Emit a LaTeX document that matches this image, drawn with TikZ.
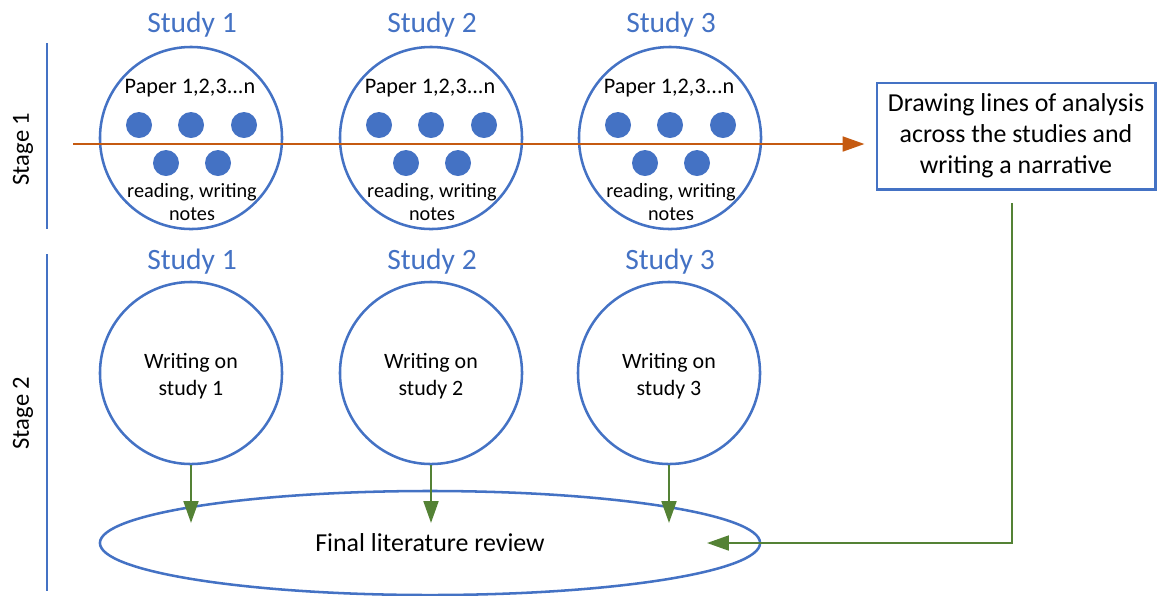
\documentclass[tikz,border=0pt]{standalone}
\usepackage{fontspec}
\setmainfont{Carlito}
\usetikzlibrary{arrows.meta,calc,shapes.geometric}

\definecolor{offblue}{HTML}{4472C4}
\definecolor{offorange}{HTML}{C55A11}
\definecolor{offgreen}{HTML}{548235}

\tikzset{
  studylabel/.style={text=offblue, font=\fontsize{21}{24}\selectfont, inner sep=0pt},
  stagelabel/.style={font=\fontsize{17.5}{20}\selectfont, rotate=90, inner sep=0pt},
  studycircle/.style={circle, draw=offblue, line width=1.8pt, minimum size=4.55cm, inner sep=0pt},
  smalltext/.style={font=\fontsize{14.4}{16.5}\selectfont, align=center, inner sep=0pt},
  writetext/.style={font=\fontsize{15.6}{19}\selectfont, align=center, inner sep=0pt},
  paperdot/.style={circle, fill=offblue, minimum size=0.65cm, inner sep=0pt},
  stageline/.style={draw=offblue, line width=1.9pt},
  flowarrow/.style={draw=offorange, line width=1.7pt, -{Triangle[length=15.5pt,width=10.5pt]}},
  feedarrow/.style={draw=offgreen, line width=1.7pt, -{Triangle[length=15.5pt,width=10.5pt]}},
}

\begin{document}
\begin{tikzpicture}[x=0.025cm, y=-0.025cm]
  \useasboundingbox (0,0) rectangle (1161,595);

  % stage markers on the left
  \coordinate (s1top) at (47,43);
  \coordinate (s1bot) at (47,229);
  \coordinate (s2top) at (47,254);
  \coordinate (s2bot) at (47,591);
  \draw[stageline] (s1top) -- (s1bot);
  \draw[stageline] (s2top) -- (s2bot);
  \node[stagelabel] (stage1) at (23,149) {Stage 1};
  \node[stagelabel] (stage2) at (23,413) {Stage 2};

  % stage 1: reading the papers of each study
  \foreach \i/\x in {1/191, 2/431, 3/670} {
    \node[studylabel] (lab1\i) at (\x+1,25) {Study \i};
    \node[studycircle] (a\i) at (\x,138) {};
    \node[smalltext, font=\fontsize{15.8}{18}\selectfont] (pap\i) at (\x-1,88) {Paper 1,2,3...n};
    \node[paperdot] (d\i a) at (\x-52,125) {};
    \node[paperdot] (d\i b) at (\x,125) {};
    \node[paperdot] (d\i c) at (\x+53,125) {};
    \node[paperdot] (d\i d) at (\x-25,163) {};
    \node[paperdot] (d\i e) at (\x+27,163) {};
    \node[smalltext] (read\i) at (\x+1,202) {reading, writing\\notes};
  }

  % synthesis box
  \node[draw=offblue, line width=2.1pt, minimum width=6.95cm, minimum height=2.65cm,
        inner sep=0pt, align=center, font=\fontsize{18.4}{22}\selectfont]
        (synth) at (1016,136) {Drawing lines of analysis\\across the studies and\\writing a narrative};

  \coordinate (flowstart) at (73,144);
  \draw[flowarrow, shorten >=7.8pt] (flowstart) -- (flowstart -| synth.west);

  % stage 2: writing on each study
  \foreach \i/\x in {1/191, 2/431, 3/669} {
    \node[studylabel] (lab2\i) at (\x+1,262) {Study \i};
    \node[studycircle] (b\i) at (\x,373) {};
    \node[writetext] (w\i) at (\x,376) {Writing on\\study \i};
  }

  % final review
  \node[ellipse, draw=offblue, line width=1.8pt, minimum width=16.5cm, minimum height=2.6cm,
        inner sep=0pt, font=\fontsize{18.4}{22}\selectfont] (final) at (430,543) {Final literature review};

  \coordinate (tipline) at (0,523);
  \foreach \i in {1,2,3}
    \draw[feedarrow] (b\i.south) -- (b\i.south |- tipline);

  % feedback from the synthesis box into the review
  \coordinate (backtip) at (707,543);
  \draw[feedarrow, shorten <=9.2pt] ($(synth.south)+(-4,0)$) |- (backtip);
\end{tikzpicture}
\end{document}
